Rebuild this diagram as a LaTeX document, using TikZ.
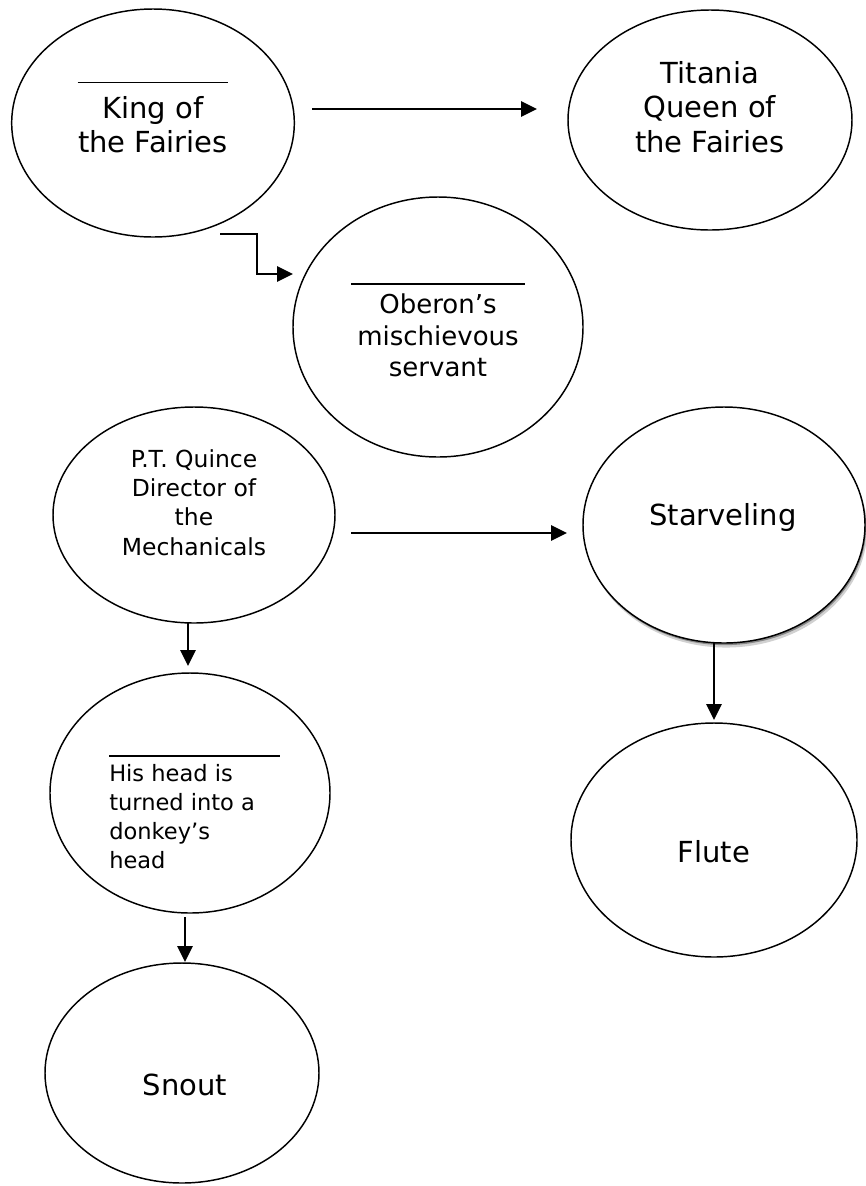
\documentclass[tikz,border=0pt]{standalone}
\usepackage{fontspec}
\setmainfont{DejaVu Sans}
\usetikzlibrary{positioning,arrows.meta,shapes.geometric,shadows}

\begin{document}
\begin{tikzpicture}[
  x=0.75pt, y=-0.75pt,
  >={Triangle[length=12pt, width=11.5pt]},
  bubble/.style={ellipse, draw=black, line width=1.1pt, fill=white,
                 inner sep=0pt, outer sep=0pt},
  shadowed/.style={drop shadow={shadow xshift=0.8pt, shadow yshift=-1.6pt, opacity=.35, fill=black},
                   drop shadow={shadow xshift=1.6pt, shadow yshift=-3.4pt, opacity=.18, fill=black}},
  txt/.style={inner sep=0pt, align=center, text=black},
  fbig/.style={font=\fontsize{21.75}{26}\selectfont},
  fmid/.style={font=\fontsize{19.5}{23.5}\selectfont},
  fsmall/.style={font=\fontsize{17.6}{22}\selectfont},
  fhead/.style={font=\fontsize{16.9}{21.75}\selectfont},
  link/.style={->, line width=1.6pt, draw=black},
]
\fill[white] (0,0) rectangle (865,1186);
\useasboundingbox (0,0) rectangle (865,1186);

% ---- the fairies ----
\node[bubble, minimum width=212pt, minimum height=171pt]   (king)    at (153,123) {};
\node[bubble, minimum width=213pt, minimum height=165pt]   (titania) at (710,120) {};
\node[bubble, minimum width=217.5pt, minimum height=195pt] (oberon)  at (438,327) {};

% ---- the mechanicals ----
\node[bubble, minimum width=211.5pt, minimum height=162pt] (quince)  at (194,515) {};
\node[bubble, shadowed, minimum width=211.5pt, minimum height=177pt] (starveling) at (724,525) {};
\node[bubble, minimum width=210pt, minimum height=180pt]   (head)    at (190,793) {};
\node[bubble, minimum width=214.5pt, minimum height=175.5pt] (flute) at (714,840) {};
\node[bubble, minimum width=205.5pt, minimum height=165pt] (snout)   at (182,1073) {};

% ---- texts (blanks drawn as rules) ----
\node[txt, fbig, anchor=north] (kingtxt) at (153,82)
      {\rule{113pt}{0.8pt}\\King of\\the Fairies};
\node[txt, fbig, anchor=north] (titaniatxt) at (710,61)
      {Titania\\Queen of\\the Fairies};
\node[txt, fmid, anchor=north] (oberontxt) at (438,283)
      {\rule{130pt}{1.5pt}\\[-2pt]Oberon’s\\mischievous\\servant};
\node[txt, fsmall, anchor=north] (quincetxt) at (194,449)
      {P.T. Quince\\Director of\\the\\Mechanicals};
\node[txt, fhead, align=left, anchor=north west] (headtxt) at (109,755)
      {\rule{128pt}{1.5pt}\\[-3.4pt]His head is\\turned into a\\donkey’s\\head};
\node[txt, fbig, anchor=base] (starvelingtxt) at (723,525) {Starveling};
\node[txt, fbig, anchor=base] (flutetxt) at (714,862.5) {Flute};
\node[txt, fbig, anchor=base] (snouttxt) at (185,1095) {Snout};

% ---- arrows ----
\draw[link] ([shift={(18,-14)}]king.east) -- ([shift={(-31,-11)}]titania.west);
\draw[link] ([shift={(67,-3)}]king.south) -- ++(37,0) |- ([shift={(0,-53)}]oberon.west);
\draw[link] ([shift={(16,18)}]quince.east) -- ([shift={(-16,8)}]starveling.west);
\draw[link] ([shift={(-6,0)}]quince.south) -- ([shift={(-2,-7)}]head.north);
\draw[link] ([shift={(-5,4)}]head.south) -- ([shift={(3,-1)}]snout.north);
\draw[link] ([shift={(-10,0)}]starveling.south) -- ([shift={(0,-3)}]flute.north);
\end{tikzpicture}
\end{document}
